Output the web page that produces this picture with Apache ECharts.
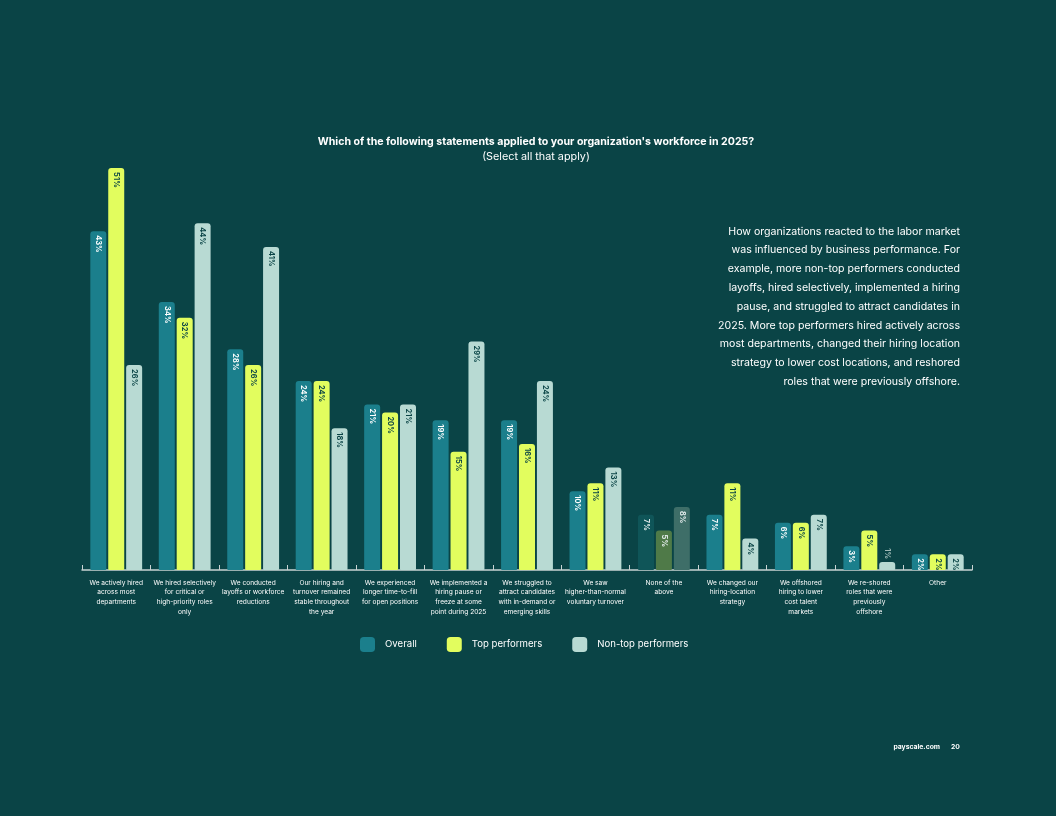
<!DOCTYPE html>
<html>
<head>
<meta charset="utf-8">
<script src="https://cdn.jsdelivr.net/npm/echarts@6/dist/echarts.min.js"></script>
<style>
html,body{margin:0;padding:0;background:#0a4446;}
#c{width:1056px;height:816px;}
</style>
</head>
<body>
<div id="c"></div>
<script>
const categories = [
  "We actively hired\nacross most\ndepartments",
  "We hired selectively\nfor critical or\nhigh-priority roles\nonly",
  "We conducted\nlayoffs or workforce\nreductions",
  "Our hiring and\nturnover remained\nstable throughout\nthe year",
  "We experienced\nlonger time-to-fill\nfor open positions",
  "We implemented a\nhiring pause or\nfreeze at some\npoint during 2025",
  "We struggled to\nattract candidates\nwith in-demand or\nemerging skills",
  "We saw\nhigher-than-normal\nvoluntary turnover",
  "None of the\nabove",
  "We changed our\nhiring-location\nstrategy",
  "We offshored\nhiring to lower\ncost talent\nmarkets",
  "We re-shored\nroles that were\npreviously\noffshore",
  "Other"
];
const overall   = [43, 34, 28, 24, 21, 19, 19, 10, 7, 7, 6, 3, 2];
const topPerf   = [51, 32, 26, 24, 20, 15, 16, 11, 5, 11, 6, 5, 2];
const nonTop    = [26, 44, 41, 18, 21, 29, 24, 13, 8, 4, 7, 1, 2];
const seriesNames = ["Overall", "Top performers", "Non-top performers"];

const BG = "#0a4446";
const colors = ["#1b7f8c", "#e2fd5e", "#b8dad3"];
const labelColors = ["#ffffff", "#0a4446", "#0a4446"];
const noneIdx = 8;
const noneColors = ["#0f5558", "#4f7a48", "#3e6e68"];
const FONT = "Inter, 'Noto Sans', sans-serif";

function buildData(arr, si) {
  return arr.map((v, i) => {
    const item = { value: v };
    if (i === noneIdx) {
      item.itemStyle = { color: noneColors[si] };
      item.label = { color: "#e6eeee" };
    }
    if (v <= 1) {
      item.label = { position: "top", align: "right", color: "#9fb9b6", distance: 3 };
    }
    return item;
  });
}

const dataSets = [overall, topPerf, nonTop];
const series = dataSets.map((arr, si) => ({
  name: seriesNames[si],
  type: "bar",
  barWidth: 16,
  barGap: "12%",
  data: buildData(arr, si),
  itemStyle: { color: colors[si], borderRadius: [3, 3, 1, 1] },
  label: {
    show: true,
    position: "insideTop",
    rotate: -90,
    align: "left",
    verticalAlign: "middle",
    distance: 4,
    formatter: "{c}%",
    fontFamily: FONT,
    fontWeight: "bold",
    fontSize: 7.5,
    color: labelColors[si]
  }
}));

const chart = echarts.init(document.getElementById("c"));
chart.setOption({
  backgroundColor: BG,
  animation: false,
  textStyle: { fontFamily: FONT },
  title: {
    text: "Which of the following statements applied to your organization's workforce in 2025?",
    subtext: "(Select all that apply)",
    left: 531,
    textAlign: "center",
    top: 131,
    itemGap: 4,
    textStyle: { color: "#ffffff", fontSize: 10.6, fontWeight: "bold", fontFamily: FONT },
    subtextStyle: { color: "#ffffff", fontSize: 10.8, fontFamily: FONT }
  },
  legend: {
    left: 360,
    top: 637,
    padding: 0,
    itemWidth: 15,
    itemHeight: 15,
    itemGap: 30,
    icon: "roundRect",
    textStyle: { color: "#ffffff", fontSize: 9.6, fontFamily: FONT, padding: [0, 0, 0, 5] },
    data: seriesNames
  },
  grid: { left: 82, right: 84, top: 97.2, bottom: 246 },
  xAxis: {
    type: "category",
    data: categories,
    axisLine: { lineStyle: { color: "#c9d3d3", width: 1.5 } },
    axisTick: { show: true, inside: true, length: 5, interval: 0, lineStyle: { color: "#c9d3d3" } },
    axisLabel: {
      interval: 0,
      color: "#ffffff",
      fontSize: 6.6,
      lineHeight: 9.6,
      margin: 8,
      fontFamily: FONT
    }
  },
  yAxis: {
    type: "value",
    min: 0,
    max: 60,
    show: false,
    splitLine: { show: false }
  },
  series: series,
  graphic: [
    {
      type: "text",
      x: 960,
      y: 222,
      style: {
        text: "How organizations reacted to the labor market\nwas influenced by business performance. For\nexample, more non-top performers conducted\nlayoffs, hired selectively, implemented a hiring\npause, and struggled to attract candidates in\n2025. More top performers hired actively across\nmost departments, changed their hiring location\nstrategy to lower cost locations, and reshored\nroles that were previously offshore.",
        align: "right",
        verticalAlign: "top",
        fill: "#ffffff",
        fontSize: 10.6,
        lineHeight: 18.8,
        fontFamily: FONT
      }
    },
    {
      type: "text",
      x: 940,
      y: 747,
      style: { text: "payscale.com", align: "right", verticalAlign: "middle", fill: "#ffffff", fontSize: 6.8, fontWeight: "bold", fontFamily: FONT }
    },
    {
      type: "text",
      x: 951,
      y: 747,
      style: { text: "20", verticalAlign: "middle", fill: "#ffffff", fontSize: 6.8, fontWeight: "bold", fontFamily: FONT }
    }
  ]
});
</script>
</body>
</html>
